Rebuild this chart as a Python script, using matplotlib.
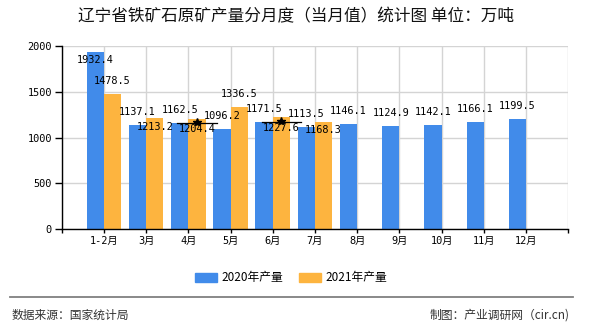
import numpy as np
import matplotlib
matplotlib.use("Agg")
from matplotlib import pyplot as plt
from matplotlib.lines import Line2D
from matplotlib.patches import Patch

plt.rcParams['font.family'] = ['Noto Sans CJK SC', 'DejaVu Sans']

months = ['1-2月', '3月', '4月', '5月', '6月', '7月', '8月', '9月', '10月', '11月', '12月']
output_2020 = [1932.4, 1137.1, 1162.5, 1096.2, 1171.5, 1113.5, 1146.1, 1124.9, 1142.1, 1166.1, 1199.5]
output_2021 = [1478.5, 1213.2, 1204.4, 1336.5, 1227.6, 1168.3]
# months that carry the black star marker on the 2021 bar
star_months = [2, 4]

blue = '#418bea'
orange = '#fdb43f'
mono = ['DejaVu Sans Mono', 'Noto Sans CJK SC']

fig = plt.figure(figsize=(5.9, 3.3), dpi=100)
ax = fig.add_axes([61.7 / 590, (330 - 229.3) / 330, (568.3 - 61.7) / 590, (229.3 - 46) / 330])

x = np.arange(len(months))
w = 0.41
x21 = x[:len(output_2021)]
ax.bar(x - w / 2, output_2020, w, color=blue, zorder=2)
ax.bar(x21 + w / 2, output_2021, w, color=orange, zorder=2)

# value labels, vertical offsets in pixels (negative = inside the bar)
off_2020 = [-8] + [13] * (len(output_2020) - 1)
off_2021 = [13, -9, -10, 13, -11, -8]
for xi, v, o in zip(x - w / 2, output_2020, off_2020):
    ax.annotate(f'{v:.1f}', (xi, v), xytext=(0, o * 0.72), textcoords='offset points',
                ha='center', va='center', fontsize=7.4, family=mono, zorder=5)
for xi, v, o in zip(x21 + w / 2, output_2021, off_2021):
    ax.annotate(f'{v:.1f}', (xi, v), xytext=(0, o * 0.72), textcoords='offset points',
                ha='center', va='center', fontsize=7.4, family=mono, zorder=5)

for m in star_months:
    y = output_2020[m]
    ax.plot([m + w / 2 - 0.47, m + w / 2 + 0.47], [y, y], color='black', lw=0.9, zorder=4)
    ax.plot(m + w / 2, y + 10, marker='*', color='black', ms=6, zorder=4)

ax.set_xlim(-1, 11)
ax.set_ylim(0, 2000)
ax.set_xticks(np.arange(-1, 12))
ax.set_xticklabels([''] + months + [''], family=mono, fontsize=7.4)
ax.set_yticks([0, 500, 1000, 1500, 2000])
ax.set_yticklabels(['0', '500', '1000', '1500', '2000'], family=mono, fontsize=7.4)
ax.tick_params(axis='y', length=5, width=1, pad=2)
ax.tick_params(axis='x', length=2.6, width=1, pad=2.5)
ax.grid(True, color='#d4d4d4', lw=1, zorder=0)
ax.set_axisbelow(True)
for s in ['top', 'right']:
    ax.spines[s].set_visible(False)
for s in ['left', 'bottom']:
    ax.spines[s].set_color('black')
    ax.spines[s].set_linewidth(1)

fig.text(296 / 590, (330 - 17) / 330, '辽宁省铁矿石原矿产量分月度（当月值）统计图 单位：万吨',
         ha='center', va='center', fontsize=12, fontweight='medium', color='#111111')

handles = [Patch(color=blue, label='2020年产量'), Patch(color=orange, label='2021年产量')]
fig.legend(handles=handles, loc='center', bbox_to_anchor=(291 / 590, (330 - 278) / 330),
           ncol=2, frameon=False, fontsize=8.5, handlelength=1.9, handleheight=0.7,
           handletextpad=0.35, columnspacing=1.35)

fig.add_artist(Line2D([10 / 590, 573 / 590], [(330 - 297) / 330] * 2, color='#808080', lw=1.3))
fig.text(12 / 590, (330 - 315) / 330, '数据来源：国家统计局', ha='left', va='center',
         fontsize=8.5, color='#333333')
fig.text(570 / 590, (330 - 315) / 330, '制图：产业调研网（cir.cn)', ha='right', va='center',
         fontsize=8.5, color='#333333')

fig.savefig('out.png', dpi=100)
